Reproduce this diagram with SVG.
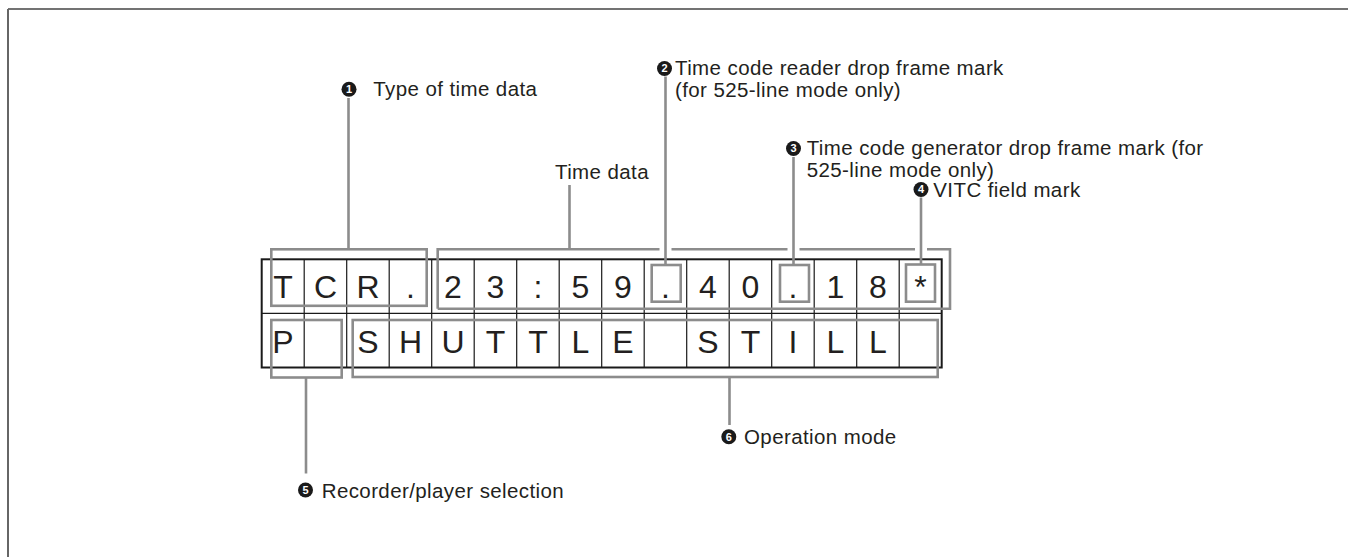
<svg xmlns="http://www.w3.org/2000/svg" width="1348" height="557" viewBox="0 0 1348 557">
<style>
.lbl{font-family:"Liberation Sans",Arial,sans-serif;font-size:20.5px;letter-spacing:0.4px;fill:#231f20}
.num{font-family:"Liberation Sans",Arial,sans-serif;font-size:11px;font-weight:bold;fill:#fff;text-anchor:middle}
.dot{fill:#1a1a1a}
.cell{font-family:"Liberation Sans",Arial,sans-serif;font-size:32px;fill:#231f20;text-anchor:middle}
.grid{fill:none;stroke:#1a1a1a;stroke-width:1.2}
.outer{fill:none;stroke:#1a1a1a;stroke-width:2}
.br{fill:none;stroke:#8c8c8c;stroke-width:2.6}
</style>
<rect width="1348" height="557" fill="#fff"/>
<g id="frame">
<line x1="8" y1="9" x2="1348" y2="9" stroke="#444" stroke-width="1.6"/>
<line x1="8" y1="9" x2="8" y2="557" stroke="#666" stroke-width="2"/>
</g>
<g id="display">
<rect class="outer" x="261.7" y="259.3" width="680" height="108.2"/>
<line class="grid" x1="261.7" y1="313.3" x2="941.7" y2="313.3"/>
<path class="grid" d="M304.2,259.3V367.5M346.7,259.3V367.5M389.2,259.3V367.5M431.7,259.3V367.5M474.2,259.3V367.5M516.7,259.3V367.5M559.2,259.3V367.5M601.7,259.3V367.5M644.2,259.3V367.5M686.7,259.3V367.5M729.2,259.3V367.5M771.7,259.3V367.5M814.2,259.3V367.5M856.7,259.3V367.5M899.2,259.3V367.5"/>
<g class="cell">
<text x="283" y="297.5">T</text>
<text x="325.5" y="297.5">C</text>
<text x="368" y="297.5">R</text>
<text x="410.5" y="297.5">.</text>
<text x="453" y="297.5">2</text>
<text x="495.5" y="297.5">3</text>
<text x="538" y="297.5">:</text>
<text x="580.5" y="297.5">5</text>
<text x="623" y="297.5">9</text>
<text x="665.5" y="297.5">.</text>
<text x="708" y="297.5">4</text>
<text x="750.5" y="297.5">0</text>
<text x="793" y="297.5">.</text>
<text x="835.5" y="297.5">1</text>
<text x="878" y="297.5">8</text>
<text x="920.5" y="297.5">*</text>
<text x="283" y="352.5">P</text>
<text x="368" y="352.5">S</text>
<text x="410.5" y="352.5">H</text>
<text x="453" y="352.5">U</text>
<text x="495.5" y="352.5">T</text>
<text x="538" y="352.5">T</text>
<text x="580.5" y="352.5">L</text>
<text x="623" y="352.5">E</text>
<text x="708" y="352.5">S</text>
<text x="750.5" y="352.5">T</text>
<text x="793" y="352.5">I</text>
<text x="835.5" y="352.5">L</text>
<text x="878" y="352.5">L</text>
</g>
</g>
<g id="connectors" class="br">
<rect x="271.3" y="249.3" width="155.4" height="56.5"/>
<path d="M437.7,308.7V249.3H659.5M671.5,249.3H787.5M799.5,249.3H915M927,249.3H950V308.7H437.7"/>
<rect x="651.7" y="265" width="29" height="36.7"/>
<rect x="780" y="265" width="29" height="36.7"/>
<rect x="906" y="264.5" width="29" height="37.2"/>
<rect x="271.3" y="320" width="70.4" height="57.5"/>
<rect x="352.7" y="320" width="585" height="57"/>
<line x1="348.5" y1="98" x2="348.5" y2="249.3"/>
<line x1="569.5" y1="185" x2="569.5" y2="249.3"/>
<line x1="665.5" y1="76.5" x2="665.5" y2="265"/>
<line x1="793.5" y1="157" x2="793.5" y2="265"/>
<line x1="921" y1="197.5" x2="921" y2="264.5"/>
<line x1="306" y1="377.5" x2="306" y2="473.5"/>
<line x1="729.5" y1="377" x2="729.5" y2="425"/>
</g>
<g id="label-1">
<circle class="dot" cx="349" cy="89.3" r="7.5"/>
<text class="num" x="349" y="93.2">1</text>
<text class="lbl" x="373.3" y="96">Type of time data</text>
</g>
<g id="label-time-data">
<text class="lbl" x="555" y="178.5">Time data</text>
</g>
<g id="label-2">
<circle class="dot" cx="664.5" cy="68.5" r="7.5"/>
<text class="num" x="664.5" y="72.4">2</text>
<text class="lbl" x="675" y="75">Time code reader drop frame mark</text>
<text class="lbl" x="675" y="96.5">(for 525-line mode only)</text>
</g>
<g id="label-3">
<circle class="dot" cx="793.5" cy="148.5" r="7.5"/>
<text class="num" x="793.5" y="152.4">3</text>
<text class="lbl" x="806.7" y="155">Time code generator drop frame mark (for</text>
<text class="lbl" x="806.7" y="176.5">525-line mode only)</text>
</g>
<g id="label-4">
<circle class="dot" cx="921" cy="189.5" r="7.5"/>
<text class="num" x="921" y="193.4">4</text>
<text class="lbl" x="933.3" y="196.5">VITC field mark</text>
</g>
<g id="label-5">
<circle class="dot" cx="305.5" cy="490" r="7.5"/>
<text class="num" x="305.5" y="493.9">5</text>
<text class="lbl" x="321.7" y="497.5">Recorder/player selection</text>
</g>
<g id="label-6">
<circle class="dot" cx="728.8" cy="436.7" r="7.5"/>
<text class="num" x="728.8" y="440.6">6</text>
<text class="lbl" x="744" y="444.2">Operation mode</text>
</g>
</svg>
